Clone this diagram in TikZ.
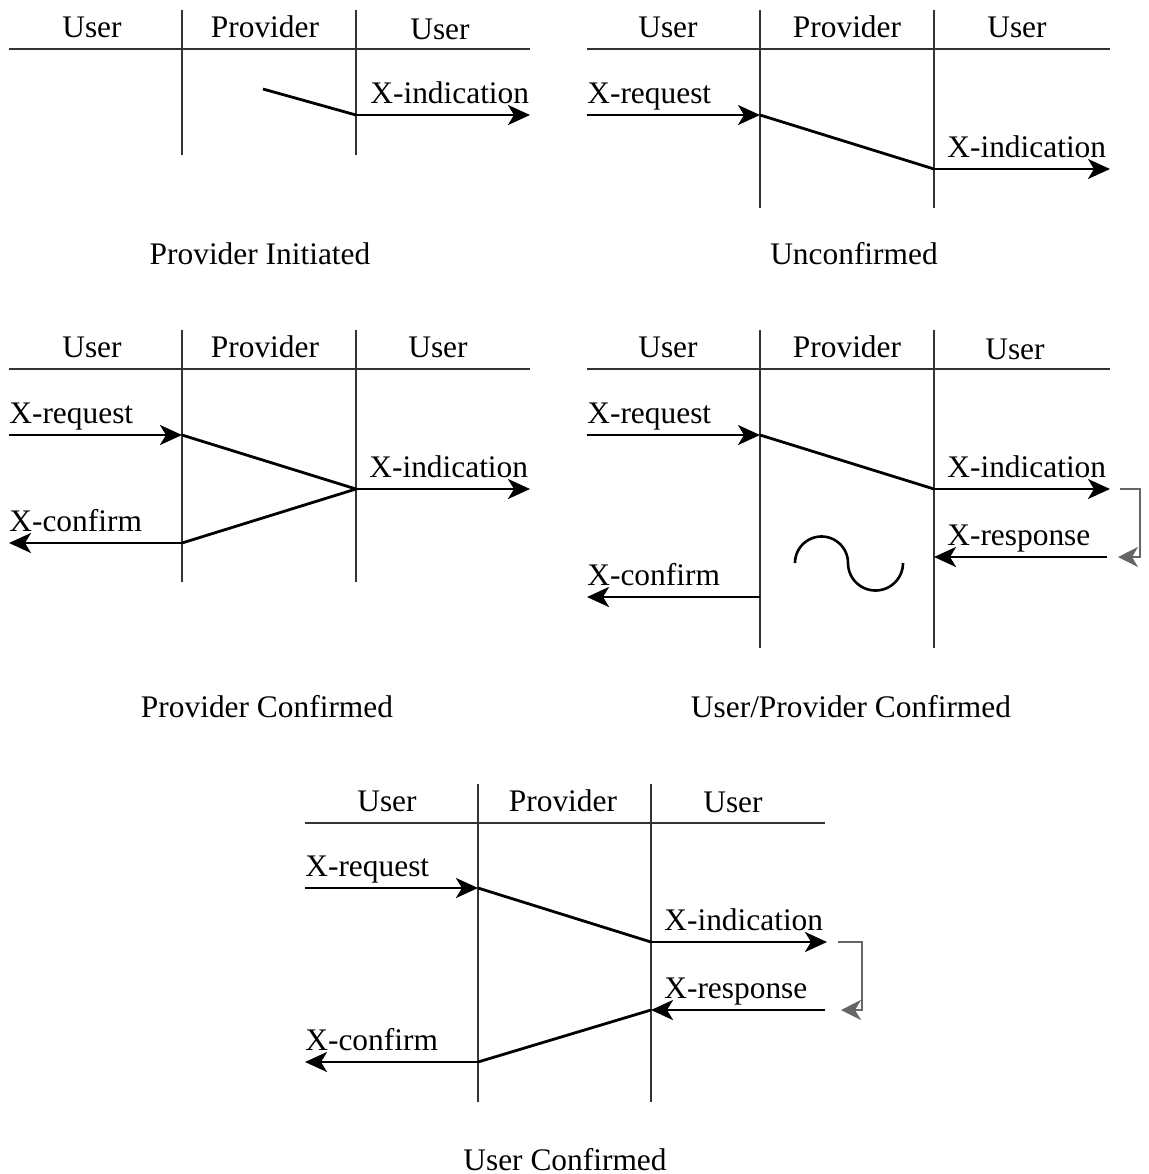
\documentclass[tikz,border=0pt]{standalone}
\usepackage{fontspec}
\setmainfont{Liberation Serif}
\usetikzlibrary{arrows.meta}
\definecolor{lanecol}{HTML}{333333}
\definecolor{loopcol}{HTML}{666666}
\tikzset{
  lane/.style={draw=lanecol, line width=1.1pt},
  msg/.style={draw=black, line width=1.4pt},
  msgarrow/.style={msg, -{Stealth[length=11pt,width=10pt,inset=3pt]}},
  loop/.style={draw=loopcol, line width=1pt, -{Stealth[length=10pt,width=10pt,inset=3pt]}},
  lbl/.style={inner sep=0pt, anchor=base, font=\fontsize{15.7}{18}\selectfont},
  lbll/.style={lbl, anchor=base west},
  tilde/.style={draw=black, line width=1.3pt}
}
\begin{document}
\begin{tikzpicture}[x=0.5pt,y=-0.5pt]
\useasboundingbox (0,0) rectangle (1148,1174);

% ---------------- Panel 1: Provider Initiated
\coordinate (a-hl) at (9,49); \coordinate (a-hr) at (530,49);
\coordinate (a-v1t) at (182,10); \coordinate (a-v1b) at (182,155);
\coordinate (a-v2t) at (356,10); \coordinate (a-v2b) at (356,155);
\coordinate (a-s) at (263,89); \coordinate (a-p) at (356,115); \coordinate (a-e) at (530,115);
\path[lane] (a-hl) -- (a-hr) (a-v1t) -- (a-v1b) (a-v2t) -- (a-v2b);
\node[lbl] (a-u1) at (92,37) {User};
\node[lbl] (a-pr) at (265,37) {Provider};
\node[lbl] (a-u2) at (440,39) {User};
\path[msg] (a-s) -- (a-p);
\path[msgarrow] (a-p) -- (a-e);
\node[lbll] (a-ind) at (370,103) {X-indication};
\node[lbl] (a-cap) at (260,264) {Provider Initiated};

% ---------------- Panel 2: Unconfirmed
\coordinate (b-hl) at (587,49); \coordinate (b-hr) at (1110,49);
\coordinate (b-v1t) at (760,10); \coordinate (b-v1b) at (760,208);
\coordinate (b-v2t) at (934,10); \coordinate (b-v2b) at (934,208);
\coordinate (b-rs) at (587,115); \coordinate (b-p1) at (760,115);
\coordinate (b-p2) at (934,169); \coordinate (b-e) at (1110,169);
\path[lane] (b-hl) -- (b-hr) (b-v1t) -- (b-v1b) (b-v2t) -- (b-v2b);
\node[lbl] (b-u1) at (668,37) {User};
\node[lbl] (b-pr) at (847,37) {Provider};
\node[lbl] (b-u2) at (1017,37) {User};
\path[msgarrow] (b-rs) -- (b-p1);
\path[msg] (b-p1) -- (b-p2);
\path[msgarrow] (b-p2) -- (b-e);
\node[lbll] (b-req) at (587,103) {X-request};
\node[lbll] (b-ind) at (947,157) {X-indication};
\node[lbl] (b-cap) at (854,264) {Unconfirmed};

% ---------------- Panel 3: Provider Confirmed
\coordinate (c-hl) at (9,369); \coordinate (c-hr) at (530,369);
\coordinate (c-v1t) at (182,330); \coordinate (c-v1b) at (182,582);
\coordinate (c-v2t) at (356,330); \coordinate (c-v2b) at (356,582);
\coordinate (c-rs) at (9,435); \coordinate (c-p1) at (182,435);
\coordinate (c-p2) at (356,489); \coordinate (c-e) at (530,489);
\coordinate (c-p3) at (182,543); \coordinate (c-ce) at (9,543);
\path[lane] (c-hl) -- (c-hr) (c-v1t) -- (c-v1b) (c-v2t) -- (c-v2b);
\node[lbl] (c-u1) at (92,357) {User};
\node[lbl] (c-pr) at (265,357) {Provider};
\node[lbl] (c-u2) at (438,357) {User};
\path[msgarrow] (c-rs) -- (c-p1);
\path[msg] (c-p1) -- (c-p2) -- (c-p3);
\path[msgarrow] (c-p2) -- (c-e);
\path[msgarrow] (c-p3) -- (c-ce);
\node[lbll] (c-req) at (9,423) {X-request};
\node[lbll] (c-ind) at (369,477) {X-indication};
\node[lbll] (c-con) at (9,531) {X-confirm};
\node[lbl] (c-cap) at (267,717) {Provider Confirmed};

% ---------------- Panel 4: User/Provider Confirmed
\coordinate (d-hl) at (587,369); \coordinate (d-hr) at (1110,369);
\coordinate (d-v1t) at (760,330); \coordinate (d-v1b) at (760,648);
\coordinate (d-v2t) at (934,330); \coordinate (d-v2b) at (934,648);
\coordinate (d-rs) at (587,435); \coordinate (d-p1) at (760,435);
\coordinate (d-p2) at (934,489); \coordinate (d-e) at (1110,489);
\coordinate (d-rb) at (1107,557); \coordinate (d-p3) at (934,557);
\coordinate (d-cs) at (760,597); \coordinate (d-ce) at (587,597);
\coordinate (d-l1) at (1120,489); \coordinate (d-l2) at (1140,489);
\coordinate (d-l3) at (1140,557); \coordinate (d-l4) at (1118,557);
\path[lane] (d-hl) -- (d-hr) (d-v1t) -- (d-v1b) (d-v2t) -- (d-v2b);
\node[lbl] (d-u1) at (668,357) {User};
\node[lbl] (d-pr) at (847,357) {Provider};
\node[lbl] (d-u2) at (1015,359) {User};
\path[msgarrow] (d-rs) -- (d-p1);
\path[msg] (d-p1) -- (d-p2);
\path[msgarrow] (d-p2) -- (d-e);
\path[msgarrow] (d-rb) -- (d-p3);
\path[msgarrow] (d-cs) -- (d-ce);
\path[loop] (d-l1) -- (d-l2) -- (d-l3) -- (d-l4);
\node[lbll] (d-req) at (587,423) {X-request};
\node[lbll] (d-ind) at (947,477) {X-indication};
\node[lbll] (d-rsp) at (947,545) {X-response};
\node[lbll] (d-con) at (587,585) {X-confirm};
\path[tilde] plot[domain=180:360, samples=40] ({821.5+26.5*cos(\x)}, {563+26.5*sin(\x)})
  -- plot[domain=180:0, samples=40] ({875.5+27.5*cos(\x)}, {563+27.5*sin(\x)});
\node[lbl] (d-cap) at (851,717) {User/Provider Confirmed};

% ---------------- Panel 5: User Confirmed
\coordinate (e-hl) at (305,823); \coordinate (e-hr) at (825,823);
\coordinate (e-v1t) at (478,784); \coordinate (e-v1b) at (478,1102);
\coordinate (e-v2t) at (651,784); \coordinate (e-v2b) at (651,1102);
\coordinate (e-rs) at (305,888); \coordinate (e-p1) at (478,888);
\coordinate (e-p2) at (651,942); \coordinate (e-e) at (827,942);
\coordinate (e-rb) at (825,1010); \coordinate (e-p3) at (651,1010);
\coordinate (e-p4) at (478,1062); \coordinate (e-ce) at (305,1062);
\coordinate (e-l1) at (838,942); \coordinate (e-l2) at (862,942);
\coordinate (e-l3) at (862,1010); \coordinate (e-l4) at (841,1010);
\path[lane] (e-hl) -- (e-hr) (e-v1t) -- (e-v1b) (e-v2t) -- (e-v2b);
\node[lbl] (e-u1) at (387,811) {User};
\node[lbl] (e-pr) at (563,811) {Provider};
\node[lbl] (e-u2) at (733,812) {User};
\path[msgarrow] (e-rs) -- (e-p1);
\path[msg] (e-p1) -- (e-p2);
\path[msgarrow] (e-p2) -- (e-e);
\path[msgarrow] (e-rb) -- (e-p3);
\path[msg] (e-p3) -- (e-p4);
\path[msgarrow] (e-p4) -- (e-ce);
\path[loop] (e-l1) -- (e-l2) -- (e-l3) -- (e-l4);
\node[lbll] (e-req) at (305,876) {X-request};
\node[lbll] (e-ind) at (664,930) {X-indication};
\node[lbll] (e-rsp) at (664,998) {X-response};
\node[lbll] (e-con) at (305,1050) {X-confirm};
\node[lbl] (e-cap) at (565,1170) {User Confirmed};
\end{tikzpicture}
\end{document}
